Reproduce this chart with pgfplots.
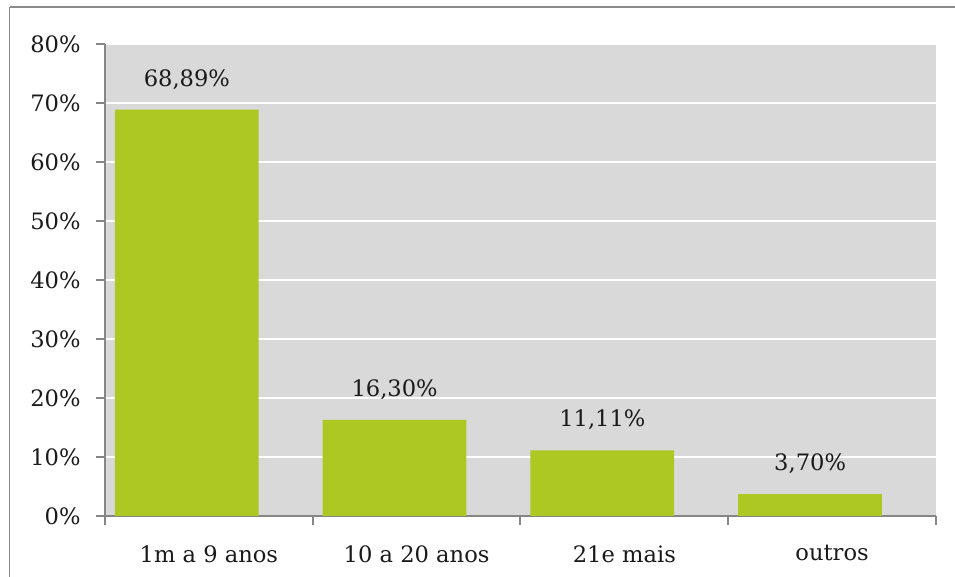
\documentclass[border=0pt]{standalone}
\usepackage{pgfplots}
\usepackage{pgfplotstable}
\usepackage{fontspec}
\pgfplotsset{compat=1.18}
\setmainfont{DejaVu Serif}

\definecolor{plotbg}{HTML}{D9D9D9}
\definecolor{barfill}{HTML}{AEC823}
\definecolor{axisgray}{HTML}{868686}
\definecolor{framegray}{HTML}{8A8A8A}
\definecolor{txt}{HTML}{1A1A1A}

\pgfplotstableread{
x y label
0 68.89 {68,89\%}
1 16.30 {16,30\%}
2 11.11 {11,11\%}
3 3.70  {3,70\%}
}\tempo

\begin{document}
\begin{tikzpicture}
\path[use as bounding box] (0,0) rectangle (477.5pt,288.5pt);
% frame lines
\draw[framegray, line width=0.6pt] (4.75pt,0) -- (4.75pt,285pt);
\draw[framegray, line width=1pt] (4.75pt,285pt) -- (477.5pt,285pt);
\begin{axis}[
  at={(52.5pt,30.5pt)}, anchor=south west,
  scale only axis, width=415.5pt, height=236pt,
  font=\fontsize{11.3}{13}\selectfont, every tick label/.append style={text=txt},
  axis background/.style={fill=plotbg},
  axis x line*=bottom, axis y line*=left,
  axis line style={axisgray, line width=1pt},
  xmin=-0.5, xmax=3.5, ymin=0, ymax=80,
  xtick={0,1,2,3},
  xticklabels={1m a 9 anos, 10 a 20 anos, 21e mais, outros},
  minor xtick={-0.5,0.5,1.5,2.5,3.5},
  ytick={0,10,...,80},
  yticklabels={0\%,10\%,20\%,30\%,40\%,50\%,60\%,70\%,80\%},
  tick align=outside,
  major tick length=4.5pt, minor tick length=4.5pt,
  x tick style={draw=none}, minor x tick style={draw=axisgray, line width=1pt},
  y tick style={axisgray, line width=1pt},
  ymajorgrids, grid style={white, line width=1pt},
  yticklabel style={inner sep=0pt, xshift=-7.5pt},
  xticklabel style={inner sep=0pt, yshift=-10pt},
  ybar, bar width=0.692, bar shift=-0.106,
  nodes near coords, point meta=explicit symbolic,
  every node near coord/.append style={text=txt, anchor=south, inner sep=0pt, yshift=10pt, font=\fontsize{11.3}{13}\selectfont},
  clip=false,
]
\addplot[fill=barfill, draw=none] table[x=x, y=y, meta=label] {\tempo};
\end{axis}
\end{tikzpicture}
\end{document}
